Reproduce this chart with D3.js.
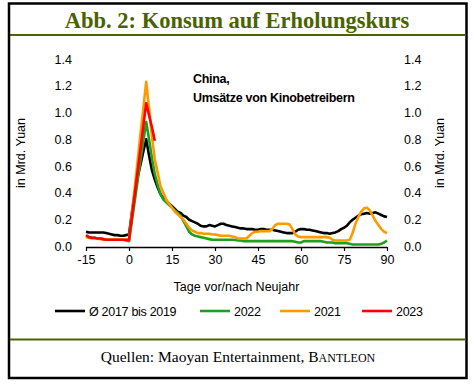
<!DOCTYPE html>
<html><head><meta charset="utf-8">
<script src="https://cdn.jsdelivr.net/npm/d3@7"></script>
<style>
html,body{margin:0;padding:0;background:#fff;}
svg{display:block;}
</style></head>
<body>
<script>
const firstDay = -15;
const avg1719 = [0.11,0.105,0.105,0.105,0.105,0.105,0.105,0.10,0.095,0.09,0.085,0.085,0.08,0.08,0.085,0.09,
0.25,0.40,0.52,0.61,0.71,0.80,0.68,0.57,0.50,0.44,0.39,0.36,0.34,0.32,0.30,0.28,0.26,0.25,0.23,0.22,0.20,0.19,0.18,0.17,0.155,0.15,0.15,0.16,0.155,0.15,
0.16,0.17,0.17,0.16,0.155,0.15,0.145,0.14,0.135,0.135,0.13,0.13,0.13,0.125,0.125,0.13,0.13,0.125,0.125,0.125,0.12,0.115,0.11,0.105,0.10,0.10,0.10,0.11,0.125,0.13,
0.13,0.125,0.125,0.12,0.115,0.11,0.105,0.10,0.10,0.095,0.10,0.105,0.115,0.13,0.14,0.155,0.18,0.20,0.215,0.23,0.24,0.245,0.25,0.245,0.25,0.255,0.245,0.235,0.225,0.22];
const y2022 = [0.075,0.07,0.065,0.065,0.06,0.06,0.055,0.05,0.05,0.05,0.05,0.05,0.05,0.05,0.045,0.04,
0.19,0.34,0.49,0.64,0.79,0.93,0.80,0.66,0.54,0.46,0.39,0.35,0.33,0.31,0.29,0.27,0.25,0.23,0.19,0.15,0.11,0.09,0.08,0.075,0.07,0.065,0.06,0.055,0.05,0.05,
0.05,0.05,0.05,0.05,0.05,0.05,0.048,0.045,0.045,0.04,0.04,0.04,0.04,0.04,0.04,0.04,0.04,0.04,0.04,0.04,0.04,0.04,0.04,0.04,0.04,0.04,0.04,0.035,0.03,0.03,
0.04,0.04,0.04,0.04,0.04,0.04,0.04,0.035,0.03,0.03,0.03,0.025,0.025,0.025,0.025,0.025,0.02,0.015,0.015,0.015,0.015,0.015,0.015,0.015,0.015,0.015,0.015,0.02,0.03,0.045];
const y2021 = [0.07,0.065,0.06,0.06,0.06,0.055,0.055,0.05,0.05,0.05,0.05,0.05,0.05,0.05,0.05,0.05,
0.25,0.44,0.64,0.84,1.03,1.23,1.03,0.82,0.65,0.55,0.45,0.40,0.35,0.32,0.29,0.26,0.24,0.22,0.20,0.17,0.14,0.12,0.11,0.10,0.10,0.095,0.095,0.095,0.09,0.09,
0.085,0.08,0.08,0.08,0.08,0.075,0.07,0.06,0.06,0.06,0.06,0.08,0.10,0.11,0.11,0.115,0.115,0.115,0.115,0.13,0.16,0.17,0.17,0.17,0.17,0.165,0.13,0.09,0.075,0.07,
0.07,0.07,0.07,0.07,0.07,0.07,0.07,0.07,0.07,0.065,0.05,0.045,0.045,0.045,0.045,0.045,0.05,0.10,0.17,0.22,0.26,0.285,0.29,0.27,0.23,0.19,0.16,0.13,0.11,0.10];
const y2023 = [0.085,0.07,0.065,0.065,0.06,0.06,0.055,0.05,0.05,0.05,0.05,0.05,0.05,0.05,0.05,0.05,
0.22,0.39,0.56,0.73,0.90,1.07,0.98,0.89,0.79];

const seriesNames = ["Ø 2017 bis 2019","2022","2021","2023"];
const seriesColors = ["#000000","#1ea01e","#ff9900","#ff0000"];
const xTicks = [-15,0,15,30,45,60,75,90];
const yTicks = [0,0.2,0.4,0.6,0.8,1.0,1.2,1.4];

const W = 474, H = 384;
const svg = d3.select("body").append("svg").attr("width",W).attr("height",H);

// frame
svg.append("rect").attr("x",9).attr("y",3.5).attr("width",457.5).attr("height",374.5)
  .attr("fill","none").attr("stroke","#000").attr("stroke-width",2.5);
svg.append("line").attr("x1",10).attr("x2",466).attr("y1",35).attr("y2",35)
  .attr("stroke","#4a6300").attr("stroke-width",2);
svg.append("line").attr("x1",10).attr("x2",466).attr("y1",339.5).attr("y2",339.5)
  .attr("stroke","#4a6300").attr("stroke-width",2);

svg.append("text").attr("x",237).attr("y",27.5).attr("text-anchor","middle")
  .attr("font-family","Liberation Serif, Times New Roman, serif").attr("font-weight","bold")
  .attr("font-size",22.5).attr("fill","#4a6300").text("Abb. 2: Konsum auf Erholungskurs");

const src = svg.append("text").attr("x",238).attr("y",362).attr("text-anchor","middle")
  .attr("font-family","Liberation Serif, Times New Roman, serif").attr("font-size",15.5).attr("fill","#000");
src.append("tspan").text("Quellen: Maoyan Entertainment, B");
src.append("tspan").attr("font-size",12).text("ANTLEON");

const x = d3.scaleLinear().domain([-15,90]).range([86,387]);
const y = d3.scaleLinear().domain([0,1.4]).range([246.5,59]);

const font = "Liberation Sans, Arial, Helvetica, sans-serif";

// x axis
const xAxis = svg.append("g").attr("transform","translate(0,247)")
  .call(d3.axisBottom(x).tickValues(xTicks).tickSize(4).tickFormat(d => String(d)));
xAxis.select(".domain").attr("stroke","#000").attr("stroke-width",1.3).attr("d","M86,0.5H387");
xAxis.selectAll(".tick line").attr("stroke","#000").attr("stroke-width",1.2);
xAxis.selectAll(".tick text").attr("font-family",font).attr("font-size",12.5).attr("fill","#000").attr("dy","0.95em").attr("y",5);

// left y axis labels
const yl = svg.append("g").attr("transform","translate(72,0)")
  .call(d3.axisLeft(y).tickValues(yTicks).tickSize(0).tickFormat(d3.format(".1f")));
yl.select(".domain").remove();
yl.selectAll(".tick text").attr("font-family",font).attr("font-size",12.5).attr("fill","#000").attr("x",0);

const yr = svg.append("g").attr("transform","translate(404,0)")
  .call(d3.axisRight(y).tickValues(yTicks).tickSize(0).tickFormat(d3.format(".1f")));
yr.select(".domain").remove();
yr.selectAll(".tick text").attr("font-family",font).attr("font-size",12.5).attr("fill","#000").attr("x",0);

// axis titles
svg.append("text").attr("transform","translate(25,153) rotate(-90)").attr("text-anchor","middle")
  .attr("font-family",font).attr("font-size",12.5).attr("fill","#000").text("in Mrd. Yuan");
svg.append("text").attr("transform","translate(444,153) rotate(-90)").attr("text-anchor","middle")
  .attr("font-family",font).attr("font-size",12.5).attr("fill","#000").text("in Mrd. Yuan");
svg.append("text").attr("x",236.5).attr("y",291).attr("text-anchor","middle")
  .attr("font-family",font).attr("font-size",12.5).attr("fill","#000").text("Tage vor/nach Neujahr");

// annotation
svg.append("text").attr("x",193).attr("y",83).attr("font-family",font).attr("font-weight","bold")
  .attr("font-size",12.5).attr("letter-spacing",-0.3).attr("fill","#000").text("China,");
svg.append("text").attr("x",193).attr("y",102).attr("font-family",font).attr("font-weight","bold")
  .attr("font-size",12.5).attr("letter-spacing",-0.3).attr("fill","#000").text("Umsätze von Kinobetreibern");

// lines
const allSeries = [avg1719, y2022, y2021, y2023];
const line = d3.line().x((d,i)=>x(firstDay+i)).y(d=>y(d));
allSeries.forEach((s,k)=>{
  svg.append("path").datum(s).attr("d",line).attr("fill","none")
    .attr("stroke",seriesColors[k]).attr("stroke-width",2.6)
    .attr("stroke-linejoin","round").attr("stroke-linecap","butt");
});

// legend
const legX = [55,200,280,362];
seriesNames.forEach((n,k)=>{
  svg.append("line").attr("x1",legX[k]).attr("x2",legX[k]+30).attr("y1",311).attr("y2",311)
    .attr("stroke",seriesColors[k]).attr("stroke-width",2.6);
  svg.append("text").attr("x",legX[k]+34).attr("y",315.5).attr("font-family",font)
    .attr("font-size",12.5).attr("letter-spacing",-0.3).attr("fill","#000").text(n);
});
</script>
</body></html>
